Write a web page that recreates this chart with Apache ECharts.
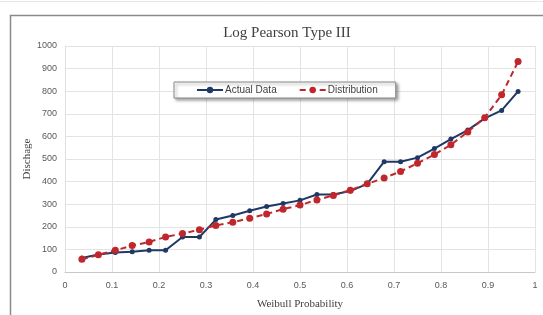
<!DOCTYPE html>
<html><head><meta charset="utf-8">
<script src="https://cdn.jsdelivr.net/npm/echarts@6/dist/echarts.min.js"></script>
<style>html,body{margin:0;padding:0;background:#fff}#c{width:543px;height:315px}</style>
</head><body><div id="c"></div>
<script>
const weibullP = [0.036,0.071,0.107,0.143,0.179,0.214,0.250,0.286,0.321,0.357,0.393,0.429,0.464,0.500,0.536,0.571,0.607,0.643,0.679,0.714,0.750,0.786,0.821,0.857,0.893,0.929,0.964];
const actualData = [62,77,86,90,96,96,155,155,232,250,271,290,303,317,343,343,358,390,488,488,506,546,588,628,680,715,799];
const distribution = [56,76,96,117,133,155,170,187,206,220,238,257,278,296,319,339,362,390,416,445,481,520,563,620,683,784,931];
const xTicks = ['0','0.1','0.2','0.3','0.4','0.5','0.6','0.7','0.8','0.9','1'];
const seriesNames = ['Actual Data','Distribution'];

const chart = echarts.init(document.getElementById('c'), null, {renderer:'canvas'});
const pair = (xs, ys) => xs.map((x,i)=>[x, ys[i]]);
chart.setOption({
  animation:false,
  backgroundColor:'#fff',
  title:{text:'Log Pearson Type III', left:282, top:21, textAlign:'center',
    textStyle:{fontFamily:'Liberation Serif', fontSize:15, fontWeight:'normal', color:'#404040'}},
  graphic:[
    {type:'rect', shape:{x:10.5,y:15.5,width:545,height:400}, style:{fill:'none', stroke:'#8a8a8a', lineWidth:1.5}, z:100},
    {type:'line', shape:{x1:0,y1:1.5,x2:543,y2:1.5}, style:{stroke:'#e6e6e6', lineWidth:1}},
    {type:'text', left:19, top:'middle', rotation:Math.PI/2, style:{text:'', fill:'#404040'}}
  ],
  legend:{left:174, top:82, itemWidth:26, itemHeight:8, itemGap:22, padding:[3,18,3,22],
    borderColor:'#8a8a8a', borderWidth:1, backgroundColor:'#fff',
    shadowColor:'rgba(0,0,0,0.35)', shadowBlur:3, shadowOffsetX:2, shadowOffsetY:2,
    textStyle:{fontFamily:'Liberation Sans', fontSize:10, color:'#404040', padding:[0,0,0,-3]},
    data:seriesNames},
  grid:{left:65, right:8, top:46, bottom:42},
  xAxis:{type:'value', min:0, max:1, interval:0.1,
    name:'Weibull Probability', nameLocation:'middle', nameGap:27, nameMoveOverlap:false,
    nameTextStyle:{fontFamily:'Liberation Serif', fontSize:11, color:'#404040'},
    axisLine:{lineStyle:{color:'#c8c8c8'}}, axisTick:{show:false},
    axisLabel:{margin:9, fontFamily:'Liberation Sans', fontSize:9, color:'#595959',
      formatter:(v)=>xTicks[Math.round(v*10)]},
    splitLine:{show:true, lineStyle:{color:'#e3e3e3'}}},
  yAxis:{type:'value', min:0, max:1000, interval:100,
    name:'Dischage', nameLocation:'middle', nameGap:32, nameMoveOverlap:false,
    nameTextStyle:{fontFamily:'Liberation Serif', fontSize:11, color:'#404040'},
    axisLine:{show:true, lineStyle:{color:'#e0e0e0'}}, axisTick:{show:false},
    axisLabel:{margin:8, fontFamily:'Liberation Sans', fontSize:9, color:'#595959',
      formatter:(v)=>String(v)},
    splitLine:{show:true, lineStyle:{color:'#e3e3e3'}}},
  series:[
    {name:seriesNames[0], type:'line', data:pair(weibullP, actualData),
      symbol:'circle', symbolSize:5, lineStyle:{color:'#1f3864', width:2},
      itemStyle:{color:'#1f3864'}, z:3},
    {name:seriesNames[1], type:'line', data:pair(weibullP, distribution),
      symbol:'circle', symbolSize:7, lineStyle:{color:'#c0272d', width:2, type:[6,4]},
      itemStyle:{color:'#c0272d'}, z:4}
  ]
});
</script></body></html>
